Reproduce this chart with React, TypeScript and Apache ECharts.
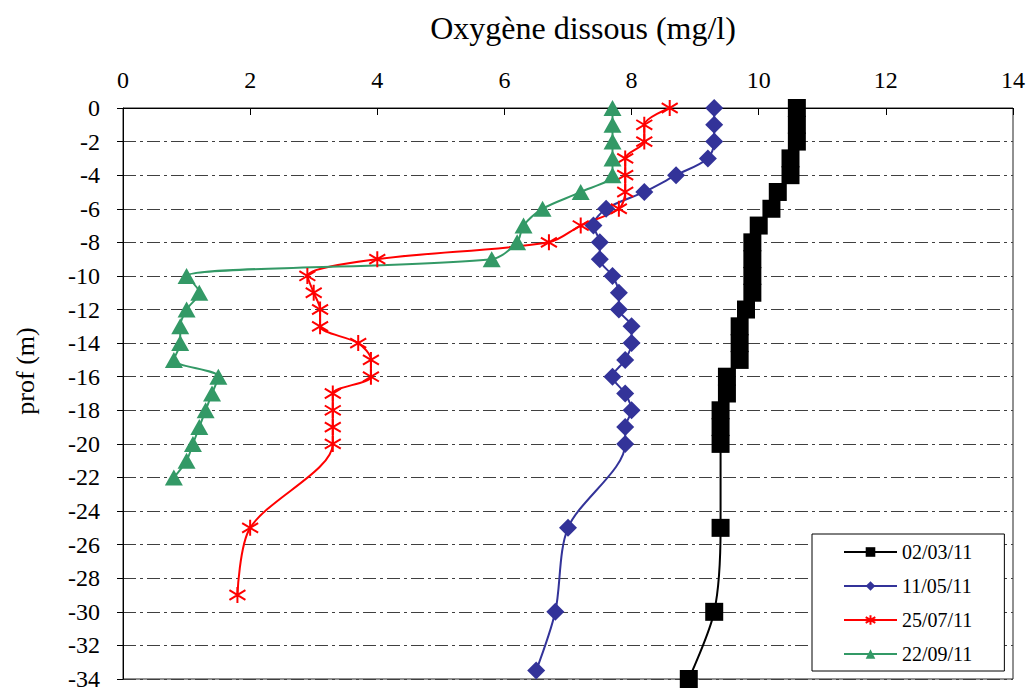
import React, { useEffect, useRef } from "react";
import * as echarts from "echarts";

const seriesNames = ["02/03/11", "11/05/11", "25/07/11", "22/09/11"];

const depthBlack = [0, -1, -2, -3, -4, -5, -6, -7, -8, -9, -10, -11, -12, -13, -14, -15, -16, -17, -18, -19, -20, -25, -30, -34];
const oxyBlack = [10.6, 10.6, 10.6, 10.5, 10.5, 10.3, 10.2, 10.0, 9.9, 9.9, 9.9, 9.9, 9.8, 9.7, 9.7, 9.7, 9.5, 9.5, 9.4, 9.4, 9.4, 9.4, 9.3, 8.9];

const depthBlue = [0, -1, -2, -3, -4, -5, -6, -7, -8, -9, -10, -11, -12, -13, -14, -15, -16, -17, -18, -19, -20, -25, -30, -33.5];
const oxyBlue = [9.3, 9.3, 9.3, 9.2, 8.7, 8.2, 7.6, 7.4, 7.5, 7.5, 7.7, 7.8, 7.8, 8.0, 8.0, 7.9, 7.7, 7.9, 8.0, 7.9, 7.9, 7.0, 6.8, 6.5];

const depthRed = [0, -1, -2, -3, -4, -5, -6, -7, -8, -9, -10, -11, -12, -13, -14, -15, -16, -17, -18, -19, -20, -25, -29];
const oxyRed = [8.6, 8.2, 8.2, 7.9, 7.9, 7.9, 7.8, 7.2, 6.7, 4.0, 2.9, 3.0, 3.1, 3.1, 3.7, 3.9, 3.9, 3.3, 3.3, 3.3, 3.3, 2.0, 1.8];

const depthGreen = [0, -1, -2, -3, -4, -5, -6, -7, -8, -9, -10, -11, -12, -13, -14, -15, -16, -17, -18, -19, -20, -21, -22];
const oxyGreen = [7.7, 7.7, 7.7, 7.7, 7.7, 7.2, 6.6, 6.3, 6.2, 5.8, 1.0, 1.2, 1.0, 0.9, 0.9, 0.8, 1.5, 1.4, 1.3, 1.2, 1.1, 1.0, 0.8];

const xTitle = "Oxygène dissous (mg/l)";
const yTitle = "prof (m)";

const FONT = "'Liberation Serif', 'Times New Roman', serif";
const STAR = "path://M10 0 L10 20 M2 4 L18 16 M2 16 L18 4";

function pairs(xs: number[], ds: number[]) {
  return ds.map((d, i) => [xs[i], d]);
}

export default function App() {
  const ref = useRef<HTMLDivElement>(null);
  useEffect(() => {
    if (!ref.current) return;
    const chart = echarts.init(ref.current, null, { renderer: "svg" });
    const common = {
      type: "line",
      smooth: 0.3,
      clip: false,
      silent: true,
      emphasis: { disabled: true },
    };
    chart.setOption({
      animation: false,
      backgroundColor: "#fff",
      grid: {
        left: 123,
        right: 14,
        top: 108,
        bottom: 9,
        show: true,
        borderColor: "#222",
        borderWidth: 1,
        backgroundColor: "transparent",
      },
      graphic: [
        {
          type: "text",
          x: 583,
          y: 28,
          style: {
            text: xTitle,
            font: `32px ${FONT}`,
            fill: "#000",
            textAlign: "center",
            textVerticalAlign: "middle",
          },
        },
        {
          type: "text",
          x: 25,
          y: 371,
          rotation: Math.PI / 2,
          style: {
            text: yTitle,
            font: `26px ${FONT}`,
            fill: "#000",
            textAlign: "center",
            textVerticalAlign: "middle",
          },
        },
      ],
      xAxis: {
        type: "value",
        position: "top",
        min: 0,
        max: 14,
        interval: 2,
        axisLine: { show: true, lineStyle: { color: "#000", width: 1 } },
        axisTick: { show: true, inside: true, length: 7, lineStyle: { color: "#000" } },
        axisLabel: { color: "#000", fontFamily: FONT, fontSize: 24, margin: 16 },
        splitLine: { show: false },
      },
      yAxis: {
        type: "value",
        min: -34,
        max: 0,
        interval: 2,
        axisLine: { show: true, lineStyle: { color: "#000", width: 1 } },
        axisTick: { show: true, inside: false, length: 6, lineStyle: { color: "#000" } },
        axisLabel: { color: "#000", fontFamily: FONT, fontSize: 24, margin: 23 },
        splitLine: {
          show: true,
          lineStyle: { color: "#404040", width: 1, type: [13, 4, 3, 4] },
        },
      },
      legend: {
        orient: "vertical",
        left: 812,
        top: 534,
        padding: [8, 32, 7, 31],
        itemWidth: 53,
        itemHeight: 12,
        itemGap: 14,
        backgroundColor: "#fff",
        borderColor: "#000",
        borderWidth: 1,
        borderRadius: 0,
        selectedMode: false,
        textStyle: { color: "#000", fontFamily: FONT, fontSize: 20, lineHeight: 20 },
        data: seriesNames,
      },
      series: [
        {
          ...common,
          name: seriesNames[0],
          data: pairs(oxyBlack, depthBlack),
          symbol: "rect",
          symbolSize: 18,
          lineStyle: { color: "#000", width: 2 },
          itemStyle: { color: "#000" },
        },
        {
          ...common,
          name: seriesNames[1],
          data: pairs(oxyBlue, depthBlue),
          symbol: "diamond",
          symbolSize: 18,
          lineStyle: { color: "#333399", width: 2 },
          itemStyle: { color: "#333399" },
        },
        {
          ...common,
          name: seriesNames[2],
          data: pairs(oxyRed, depthRed),
          symbol: STAR,
          symbolSize: 16,
          lineStyle: { color: "#ff0000", width: 2 },
          itemStyle: { color: "#ff0000", borderColor: "#ff0000", borderWidth: 2 },
        },
        {
          ...common,
          name: seriesNames[3],
          data: pairs(oxyGreen, depthGreen),
          symbol: "triangle",
          symbolSize: [18, 16],
          lineStyle: { color: "#339966", width: 2 },
          itemStyle: { color: "#339966" },
        },
      ],
    });
    return () => chart.dispose();
  }, []);
  return <div ref={ref} style={{ width: 1028, height: 691, position: "absolute", left: 0, top: 0 }} />;
}
